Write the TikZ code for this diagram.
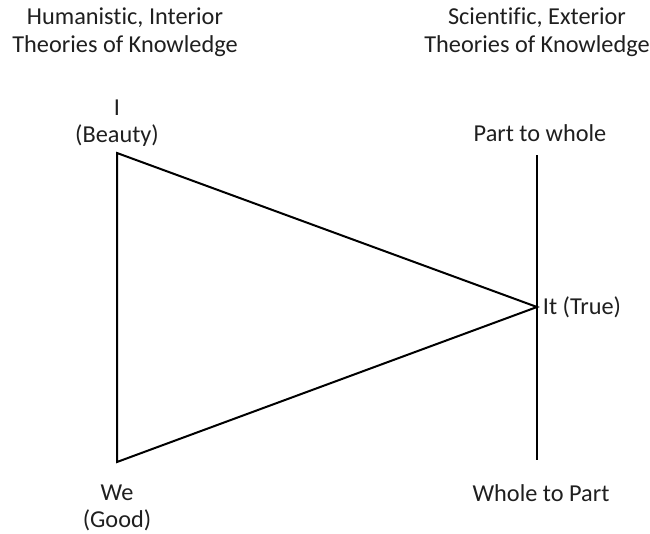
\documentclass[tikz,border=0pt]{standalone}
\usepackage{fontspec}
\setmainfont{Carlito}[Ligatures=CommonOff]
\begin{document}
\begin{tikzpicture}[x=1pt,y=-1pt,
  lbl/.style={inner sep=0pt,anchor=center,font=\fontsize{24.3}{28}\selectfont,align=center,text=black!88},
  edge/.style={line width=2pt,line join=miter}]
\useasboundingbox (0,0) rectangle (650,533);
\coordinate (I) at (117,153);
\coordinate (We) at (117,462);
\coordinate (It) at (537,307);
\coordinate (top) at (537,155);
\coordinate (bot) at (537,460);
\draw[edge] (I) -- (It) -- (We) -- cycle;
\draw[edge] (top) -- (bot);
\node[lbl] (h1) at (125,18) {Humanistic, Interior};
\node[lbl] (h2) at (125,46) {Theories of Knowledge};
\node[lbl] (s1) at (537,18) {Scientific, Exterior};
\node[lbl] (s2) at (537,46) {Theories of Knowledge};
\node[lbl] (li) at (117,108) {I};
\node[lbl] (lb) at (117,136) {(Beauty)};
\node[lbl] (pw) at (540,133) {Part to whole};
\node[lbl] (tr) at (582,307) {It (True)};
\node[lbl] (lw) at (117,493) {We};
\node[lbl] (lg) at (117,520) {(Good)};
\node[lbl] (wp) at (541,493) {Whole to Part};
\end{tikzpicture}
\end{document}
